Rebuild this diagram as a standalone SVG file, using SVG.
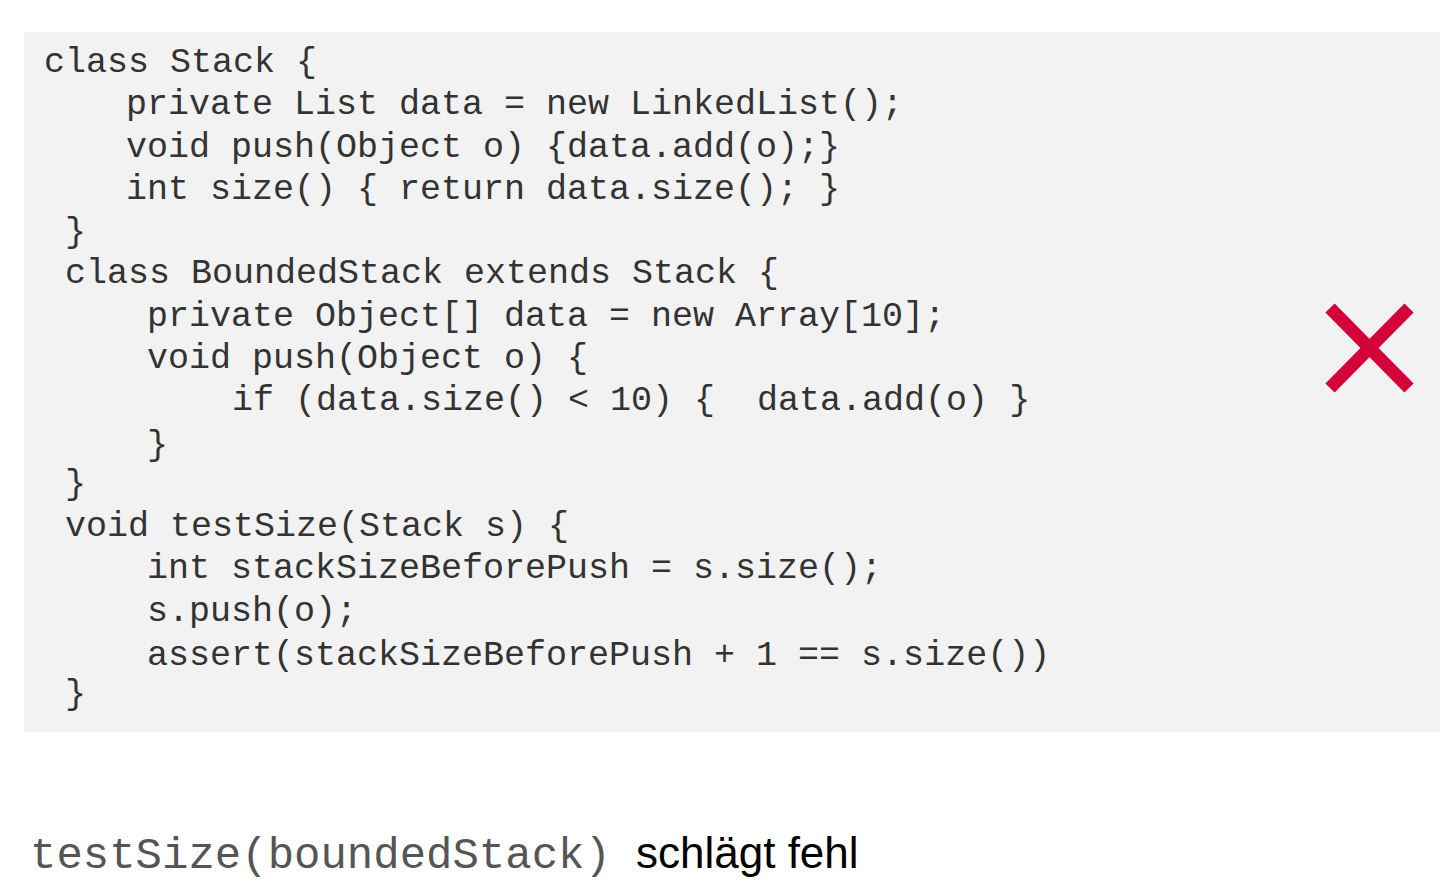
<svg xmlns="http://www.w3.org/2000/svg" width="1440" height="884" viewBox="0 0 1440 884">
<style>
.c{font-family:"Liberation Mono","Courier New",monospace;font-size:35px;fill:#333;white-space:pre}
</style>
<rect width="1440" height="884" fill="#fff"/>
<g id="code">
<rect x="24" y="32" width="1416" height="700" fill="#f2f2f2"/>
<text class="c" x="44" y="72" xml:space="preserve">class Stack {</text>
<text class="c" x="126" y="114" xml:space="preserve">private List data = new LinkedList();</text>
<text class="c" x="126" y="157" xml:space="preserve">void push(Object o) {data.add(o);}</text>
<text class="c" x="126" y="199" xml:space="preserve">int size() { return data.size(); }</text>
<text class="c" x="65" y="242" xml:space="preserve">}</text>
<text class="c" x="65" y="283" xml:space="preserve">class BoundedStack extends Stack {</text>
<text class="c" x="147" y="326" xml:space="preserve">private Object[] data = new Array[10];</text>
<text class="c" x="147" y="368" xml:space="preserve">void push(Object o) {</text>
<text class="c" x="232" y="410" xml:space="preserve">if (data.size() &lt; 10) {  data.add(o) }</text>
<text class="c" x="147" y="455" xml:space="preserve">}</text>
<text class="c" x="65" y="494" xml:space="preserve">}</text>
<text class="c" x="65" y="536" xml:space="preserve">void testSize(Stack s) {</text>
<text class="c" x="147" y="578" xml:space="preserve">int stackSizeBeforePush = s.size();</text>
<text class="c" x="147" y="621" xml:space="preserve">s.push(o);</text>
<text class="c" x="147" y="665" xml:space="preserve">assert(stackSizeBeforePush + 1 == s.size())</text>
<text class="c" x="65" y="704" xml:space="preserve">}</text>
</g>
<g id="cross" stroke="#d4003a" stroke-width="13">
<line x1="1330" y1="308" x2="1409" y2="388"/>
<line x1="1409" y1="308" x2="1330" y2="388"/>
</g>
<g id="caption">
<text x="30" y="868" font-family="Liberation Mono, monospace" font-size="44" fill="#555">testSize(boundedStack)</text>
<text x="636" y="868" font-family="Liberation Sans, Arial, sans-serif" font-size="44" fill="#000">schlägt fehl</text>
</g>
</svg>
